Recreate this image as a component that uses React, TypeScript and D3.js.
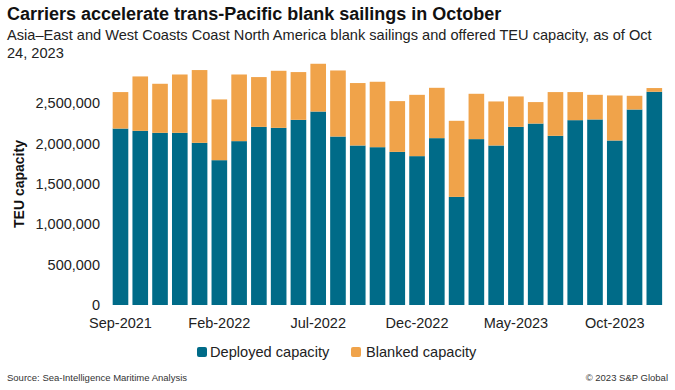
import React from "react";
import * as d3 from "d3";

const months = [
  "Sep-2021","Oct-2021","Nov-2021","Dec-2021","Jan-2022","Feb-2022","Mar-2022","Apr-2022",
  "May-2022","Jun-2022","Jul-2022","Aug-2022","Sep-2022","Oct-2022","Nov-2022","Dec-2022",
  "Jan-2023","Feb-2023","Mar-2023","Apr-2023","May-2023","Jun-2023","Jul-2023","Aug-2023",
  "Sep-2023","Oct-2023","Nov-2023","Dec-2023",
];
const deployed = [
  2187000, 2159000, 2134000, 2134000, 2010000, 1795000, 2031000, 2208000,
  2196000, 2295000, 2398000, 2088000, 1977000, 1956000, 1898000, 1845000,
  2068000, 1340000, 2056000, 1977000, 2208000, 2249000, 2097000, 2291000,
  2300000, 2039000, 2423000, 2643000,
];
const total = [
  2639000, 2833000, 2742000, 2857000, 2912000, 2548000, 2857000, 2825000,
  2903000, 2887000, 2990000, 2907000, 2751000, 2767000, 2527000, 2605000,
  2692000, 2283000, 2618000, 2523000, 2585000, 2515000, 2639000, 2639000,
  2605000, 2597000, 2593000, 2689000,
];
const blanked = total.map((t, i) => t - deployed[i]);
const yTicks = [0, 500000, 1000000, 1500000, 2000000, 2500000];
const xTickLabels = ["Sep-2021", "Feb-2022", "Jul-2022", "Dec-2022", "May-2023", "Oct-2023"];

const TEAL = "#006b88";
const ORANGE = "#f0a34a";
const FONT = "'Liberation Sans', Arial, Helvetica, sans-serif";

export default function App() {
  const W = 675, H = 390;
  const x = d3.scaleBand<string>().domain(months).range([110.6, 664.2]).paddingInner(0.21).paddingOuter(0.105);
  const y = d3.scaleLinear().domain([0, 2500000]).range([305, 103.3]);
  const fmt = d3.format(",");
  const stackData = months.map((m, i) => ({ m, deployed: deployed[i], blanked: blanked[i] }));
  const series = d3.stack<any>().keys(["deployed", "blanked"])(stackData);
  const colors: Record<string, string> = { deployed: TEAL, blanked: ORANGE };

  return (
    <svg width={W} height={H} style={{ position: "absolute", left: 0, top: 0, background: "#fff" }} fontFamily={FONT}>
      <rect width={W} height={H} fill="#fff" />
      <text x={7} y={20} fontSize={18} fontWeight="bold" fill="#111">
        Carriers accelerate trans-Pacific blank sailings in October
      </text>
      <text x={7} y={40} fontSize={14.6} fill="#222">
        Asia–East and West Coasts Coast North America blank sailings and offered TEU capacity, as of Oct
      </text>
      <text x={7} y={58} fontSize={14.6} fill="#222">24, 2023</text>

      {series.map((s) => (
        <g key={s.key} fill={colors[s.key]}>
          {s.map((d, i) => (
            <rect
              key={i}
              x={x(months[i])}
              y={y(d[1])}
              width={x.bandwidth()}
              height={y(d[0]) - y(d[1])}
            />
          ))}
        </g>
      ))}

      {yTicks.map((t) => (
        <text key={t} x={100} y={y(t) + 5} textAnchor="end" fontSize={14.5} fill="#222">
          {fmt(t)}
        </text>
      ))}
      <text transform="translate(24,184) rotate(-90)" textAnchor="middle" fontSize={14} fontWeight="bold" fill="#111">
        TEU capacity
      </text>

      {xTickLabels.map((lab) => (
        <text key={lab} x={(x(lab) as number) + x.bandwidth() / 2} y={328} textAnchor="middle" fontSize={14.5} fill="#222">
          {lab}
        </text>
      ))}

      <rect x={197} y={347} width={10} height={10} rx={2} fill={TEAL} />
      <text x={210} y={357} fontSize={14.6} fill="#222">Deployed capacity</text>
      <rect x={351} y={347} width={10} height={10} rx={2} fill={ORANGE} />
      <text x={366} y={357} fontSize={14.6} fill="#222">Blanked capacity</text>

      <text x={7} y={381} fontSize={9.5} fill="#333">Source: Sea-Intelligence Maritime Analysis</text>
      <text x={668} y={381} fontSize={9.5} textAnchor="end" fill="#333">© 2023 S&amp;P Global</text>
    </svg>
  );
}
